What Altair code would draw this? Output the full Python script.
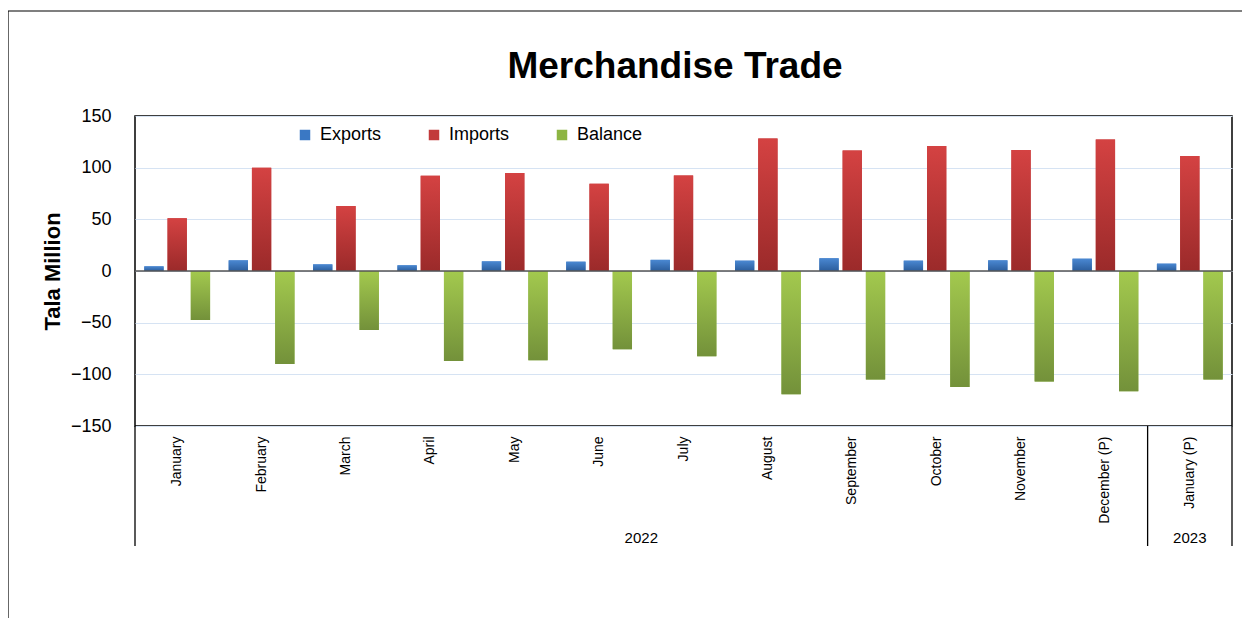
import altair as alt
import pandas as pd

months = ["January", "February", "March", "April", "May", "June", "July",
          "August", "September", "October", "November", "December (P)", "January (P)"]
years = ["2022"] * 12 + ["2023"]
exports = [4.5, 10.3, 6.4, 5.5, 9.3, 9.0, 10.8, 10.0, 12.3, 10.0, 10.3, 11.9, 7.1]
imports = [51.0, 100.0, 62.9, 92.2, 94.8, 84.5, 92.3, 128.3, 116.7, 120.9, 117.0, 127.3, 111.2]
balance = [-47.5, -90.0, -57.0, -87.0, -86.4, -75.8, -82.5, -119.3, -105.0, -112.2, -107.0, -116.4, -105.0]
series = ["Exports", "Imports", "Balance"]
swatch = ["#3a78c4", "#c23a3b", "#8db543"]
grad_top = ["#4a88d2", "#d44242", "#a3c94e"]
grad_bot = ["#2b5d9c", "#9b2a2a", "#73913a"]
title_text = "Merchandise Trade"

W, H = 1097, 310

rows = []
for i, m in enumerate(months):
    for s, vals in zip(series, [exports, imports, balance]):
        rows.append({"month": m, "year": years[i], "series": s, "value": vals[i]})
df = pd.DataFrame(rows)

x_enc = alt.X("month:N", sort=months, scale=alt.Scale(domain=months, paddingInner=0, paddingOuter=0),
              axis=alt.Axis(title=None, labelAngle=270, labelPadding=10, ticks=False, domain=False,
                            labelFontSize=14, labelColor="#000", labelFont="Liberation Sans"))
xo_enc = alt.XOffset("series:N", sort=series,
                     scale=alt.Scale(domain=series, paddingInner=0.17, paddingOuter=0.4))
y_enc = alt.Y("value:Q", scale=alt.Scale(domain=[-150, 150], nice=False),
              axis=alt.Axis(values=[-150, -100, -50, 0, 50, 100, 150], title="Tala Million",
                            titleFontSize=22, titleFontWeight="bold", titleColor="#000",
                            titleAngle=270, titleAlign="center", titleBaseline="middle",
                            titleX=-83, titleY=H / 2,
                            labelFontSize=18, labelColor="#000", labelPadding=24,
                            ticks=False, domain=False,
                            grid=True, gridColor="#d6e3f3", gridWidth=1))

base = alt.Chart(df)

legend_bars = base.mark_bar().encode(
    x=x_enc, xOffset=xo_enc, y=y_enc,
    color=alt.Color("series:N", sort=series,
                    scale=alt.Scale(domain=series, range=swatch),
                    legend=alt.Legend(title=None, orient="none", direction="horizontal",
                                      legendX=161, legendY=10, padding=0,
                                      symbolType="square", symbolSize=110, symbolStrokeWidth=0,
                                      labelFontSize=18, labelColor="#000", labelOffset=6,
                                      columnPadding=43, symbolOpacity=1)),
)

grad_layers = []
for s, t, b in zip(series, grad_top, grad_bot):
    g = alt.Gradient(gradient="linear",
                     stops=[alt.GradientStop(color=t, offset=0), alt.GradientStop(color=b, offset=1)],
                     x1=0, x2=0, y1=0, y2=1)
    grad_layers.append(
        base.transform_filter(alt.datum.series == s).mark_bar(color=g).encode(
            x=alt.X("month:N", sort=months), xOffset=alt.XOffset("series:N", sort=series), y="value:Q")
    )

zero = alt.Chart(pd.DataFrame({"z": [0]})).mark_rule(color="#555555", strokeWidth=1.6).encode(y="z:Q")

sep = alt.Chart(pd.DataFrame({"month": ["January", "January (P)"]})).mark_rule(
    color="#000", strokeWidth=1.3).encode(
    x=alt.X("month:N", sort=months, bandPosition=0), y=alt.value(H), y2=alt.value(H + 120))
sep_right = alt.Chart(pd.DataFrame({"a": [1]})).mark_rule(color="#000", strokeWidth=1.3).encode(
    x=alt.value(W), y=alt.value(H), y2=alt.value(H + 120))

yr1 = alt.Chart(pd.DataFrame({"month": ["July"], "year": ["2022"]})).mark_text(
    fontSize=15, color="#000", baseline="middle").encode(
    x=alt.X("month:N", sort=months, bandPosition=0), y=alt.value(H + 112), text="year:N")
yr2 = alt.Chart(pd.DataFrame({"month": ["January (P)"], "year": ["2023"]})).mark_text(
    fontSize=15, color="#000", baseline="middle").encode(
    x=alt.X("month:N", sort=months, bandPosition=0.5), y=alt.value(H + 112), text="year:N")

title = alt.Chart(pd.DataFrame({"t": [title_text]})).mark_text(
    fontSize=37, fontWeight="bold", color="#000", baseline="middle", align="center").encode(
    x=alt.value(540), y=alt.value(-49), text="t:N")

frame_top = alt.Chart(pd.DataFrame({"a": [1]})).mark_rule(color="#000", strokeWidth=1.2).encode(
    x=alt.value(-127), x2=alt.value(W + 10), y=alt.value(-105))
frame_left = alt.Chart(pd.DataFrame({"a": [1]})).mark_rule(color="#000", strokeWidth=1.2).encode(
    x=alt.value(-127), y=alt.value(-105), y2=alt.value(H + 200))

chart = alt.layer(legend_bars, *grad_layers, zero, sep, sep_right, yr1, yr2, title,
                  frame_top, frame_left).properties(
    width=W, height=H, autosize="none",
    padding={"left": 127, "top": 108, "right": 10, "bottom": 192},
).configure(font="Liberation Sans").configure_view(stroke="#000", strokeWidth=1.5)

chart.save("out.html", embed_options={"renderer": "svg", "actions": False})
